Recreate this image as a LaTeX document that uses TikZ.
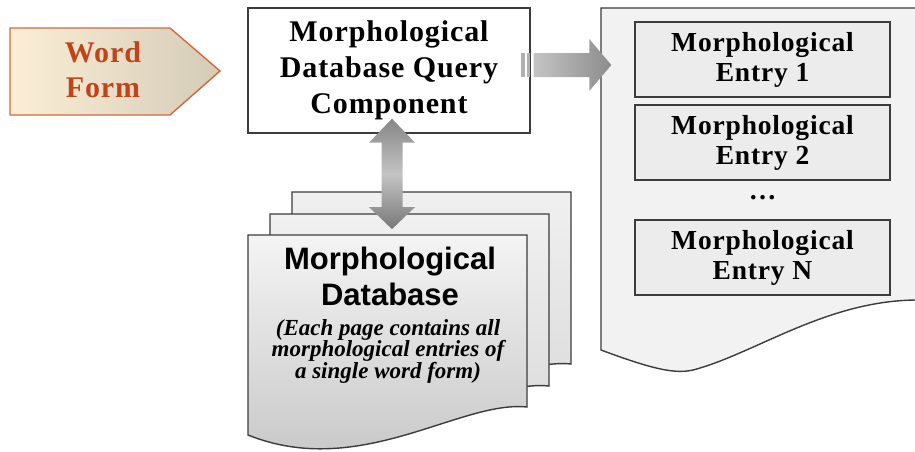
\documentclass[tikz,border=0pt]{standalone}
\usepackage{fontspec}
\setmainfont{Liberation Serif}
\setsansfont{Liberation Sans}
\newfontfamily\spaced[LetterSpace=3]{Liberation Serif}
\usetikzlibrary{calc}
\definecolor{formtext}{RGB}{192, 68, 26}
\definecolor{formline}{RGB}{212, 104, 60}
\definecolor{formlight}{RGB}{252, 238, 214}
\definecolor{formdark}{RGB}{212, 204, 184}
\definecolor{pageline}{RGB}{60, 60, 60}
\definecolor{pagefill}{RGB}{242, 242, 242}
\definecolor{entryfill}{RGB}{236, 236, 236}
\definecolor{dbbacktop}{RGB}{240, 240, 240}
\definecolor{dbbackbot}{RGB}{216, 216, 216}
\definecolor{dbfronttop}{RGB}{244, 244, 244}
\definecolor{dbfrontbot}{RGB}{196, 196, 196}
\definecolor{arrowlight}{RGB}{196, 196, 196}
\definecolor{arrowdark}{RGB}{120, 120, 120}
\tikzstyle{query} = [rectangle, draw=pageline, line width=1.4pt, fill=white,
                     minimum width=282, minimum height=125, align=center,
                     font=\spaced\bfseries\fontsize{30}{36}\selectfont]
\tikzstyle{entry} = [rectangle, draw=pageline, line width=1.4pt, fill=entryfill,
                     minimum width=255, minimum height=75, align=center,
                     font=\spaced\bfseries\fontsize{27.5}{30}\selectfont]
\tikzstyle{page} = [draw=pageline, line width=1.4pt]
\tikzstyle{fatarrow} = [left color=arrowlight, right color=arrowdark!85!white]
\tikzstyle{twoarrow} = [top color=arrowdark!90!white, bottom color=arrowdark, middle color=arrowlight]

\begin{document}
\begin{tikzpicture}[x=1pt, y=-1pt]
        \useasboundingbox (0,0) rectangle (915,451);

        %Word form tag
        \path [draw=formline, line width=1.4pt, left color=formlight, right color=formdark]
              (10,28) -- (170,28) -- (220,71) -- (170,115) -- (10,115) -- cycle;
        \node (wordform) at (103,69.5) [font=\spaced\bfseries\fontsize{30}{35}\selectfont,
              text=formtext, align=center] {Word\\Form};

        %Query component
        \node (query) [query] at (389,70.5) {Morphological\\Database Query\\Component};

        %Entries page
        \path [page, fill=pagefill] (601,8) -- (918,8) -- (918,300)
              .. controls (830,300) and (760,350) .. (700,368)
              .. controls (680,375) and (660,372) .. (601,350) -- cycle;
        \node (entry1) [entry] at (762.5,59.5) {Morphological\\Entry 1};
        \node (entry2) [entry] at (762.5,142.5) {Morphological\\Entry 2};
        \node (dots) at (762.5,198) [font=\bfseries\fontsize{27.5}{30}\selectfont] {\dots};
        \node (entryN) [entry] at (762.5,257.5) {Morphological\\Entry N};

        %Database pages
        \foreach \dx/\dy/\tc/\bc in {44/-43/dbbacktop/dbbackbot, 22/-21/dbbacktop/dbbackbot,
                                     0/0/dbfronttop/dbfrontbot}
            \path [page, top color=\tc, bottom color=\bc, shift={(\dx,\dy)}]
                  (248,235) -- (527,235) -- (527,407)
                  .. controls (460,400) and (360,480) .. (248,435) -- cycle;
        \node (dbtitle) at (390,276) [align=center,
              font=\sffamily\bfseries\fontsize{31}{36}\selectfont] {Morphological\\Database};
        \node (dbnote) at (388,351) [align=center,
              font=\bfseries\itshape\fontsize{23}{21.5}\selectfont]
              {(Each page contains all\\morphological entries of\\a single word form)};

        %Query to entries
        \coordinate (qout) at ($(query.east)+(3,-5.5)$);
        \coordinate (etip) at ($(entry1.west)+(-23,5.5)$);
        \path [fatarrow] ($(qout)+(0,-12)$) -- ($(etip)+(-22,-12)$) -- ($(etip)+(-22,-26)$)
              -- (etip) -- ($(etip)+(-22,26)$) -- ($(etip)+(-22,12)$) -- ($(qout)+(0,12)$) -- cycle;
        \fill [arrowlight!90!black] ($(qout)+(-13,-12)$) rectangle ++(4,24);
        \fill [arrowlight!90!black] ($(qout)+(-7,-12)$) rectangle ++(3.3,24);

        %Query to database
        \coordinate (dtop) at ($(query.south)+(3,-15)$);
        \coordinate (dbot) at ($(dbtitle.north)+(2,-14)$);
        \path [twoarrow] (dtop) -- ++(23,24) -- ++(-12.5,0) -- ($(dbot)+(10.5,-22)$) -- ++(12.5,0)
              -- (dbot) -- ++(-23,-22) -- ++(12.5,0) -- ($(dtop)+(-10.5,24)$) -- ++(-12.5,0) -- cycle;

\end{tikzpicture}
\end{document}
